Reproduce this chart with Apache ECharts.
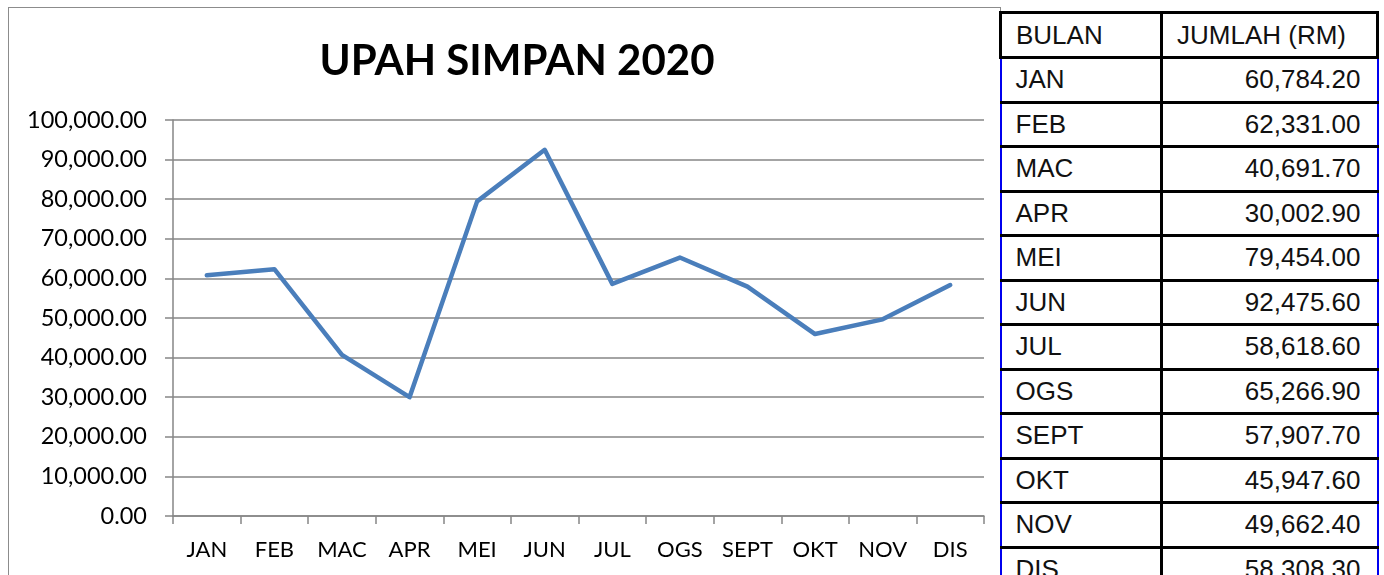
<!DOCTYPE html>
<html>
<head>
<meta charset="utf-8">
<script src="https://cdn.jsdelivr.net/npm/echarts@6/dist/echarts.min.js"></script>
<style>
  html, body { margin: 0; padding: 0; background: #fff; overflow: hidden; }
  #frame {
    position: absolute; left: 8px; top: 7px; width: 993px; height: 600px;
    border: 1.5px solid #8c8c8c; box-sizing: border-box;
  }
  #main { position: absolute; left: 0; top: 0; width: 1384px; height: 575px; }
  #tbl {
    position: absolute; left: 999px; top: 11px; border-collapse: collapse;
    font-family: "Liberation Sans", Arial, sans-serif; font-size: 26px; color: #111;
    background: #fff;
  }
  #tbl td {
    height: 44.5px; padding: 0 16px 0 14px; border-top: 3px solid #000; border-bottom: 3px solid #000;
    box-sizing: border-box;
  }
  #tbl td.c1 { width: 161px; border-left: 2.5px solid #0000ee; border-right: 3px solid #000; }
  #tbl td.c2 { width: 216px; text-align: right; border-right: 2.5px solid #0000ee; }
  #tbl tr.head td { border: 3px solid #000; height: 45px; }
  #tbl tr.head td.c2 { text-align: left; }
</style>
</head>
<body>
<div id="frame"></div>
<div id="main"></div>
<table id="tbl"></table>
<script>
// data bulanan
var months = ["JAN", "FEB", "MAC", "APR", "MEI", "JUN", "JUL", "OGS", "SEPT", "OKT", "NOV", "DIS"];
var amounts = [60784.2, 62331.0, 40691.7, 30002.9, 79454.0, 92475.6, 58618.6, 65266.9, 57907.7, 45947.6, 49662.4, 58308.3];
var tableHeader = ["BULAN", "JUMLAH (RM)"];

function fmt(v) {
  return v.toLocaleString("en-US", { minimumFractionDigits: 2, maximumFractionDigits: 2 });
}

// jadual di sebelah kanan
var tbl = document.getElementById("tbl");
var html = '<tr class="head"><td class="c1">' + tableHeader[0] + '</td><td class="c2">' + tableHeader[1] + '</td></tr>';
for (var i = 0; i < months.length; i++) {
  html += '<tr><td class="c1">' + months[i] + '</td><td class="c2">' + fmt(amounts[i]) + '</td></tr>';
}
tbl.innerHTML = html;

var chart = echarts.init(document.getElementById("main"));
chart.setOption({
  animation: false,
  title: {
    text: "UPAH SIMPAN 2020",
    left: 512,
    textAlign: "center",
    top: 35,
    textStyle: { fontFamily: "Lato", fontWeight: "bold", fontSize: 42, color: "#000" }
  },
  grid: { left: 173, right: 400, top: 120, bottom: 59 },
  xAxis: {
    type: "category",
    data: months,
    boundaryGap: true,
    axisLine: { lineStyle: { color: "#868686", width: 1.5 } },
    axisTick: { show: true, length: 8, interval: 0, lineStyle: { color: "#868686", width: 1.5 } },
    axisLabel: { interval: 0, margin: 23, fontFamily: "Lato", fontSize: 22, color: "#000" }
  },
  yAxis: {
    type: "value",
    min: 0,
    max: 100000,
    interval: 10000,
    axisLine: { show: true, lineStyle: { color: "#868686", width: 1.5 } },
    axisTick: { show: true, length: 8, lineStyle: { color: "#868686", width: 1.5 } },
    axisLabel: { margin: 26, fontFamily: "Lato", fontSize: 23.5, color: "#000", formatter: fmt },
    splitLine: { show: true, lineStyle: { color: "#868686", width: 1.5 } }
  },
  series: [
    {
      type: "line",
      data: amounts,
      showSymbol: false,
      lineStyle: { color: "#4a7ebb", width: 4.5, join: "round", cap: "round" },
      itemStyle: { color: "#4a7ebb" }
    }
  ]
});
</script>
</body>
</html>
